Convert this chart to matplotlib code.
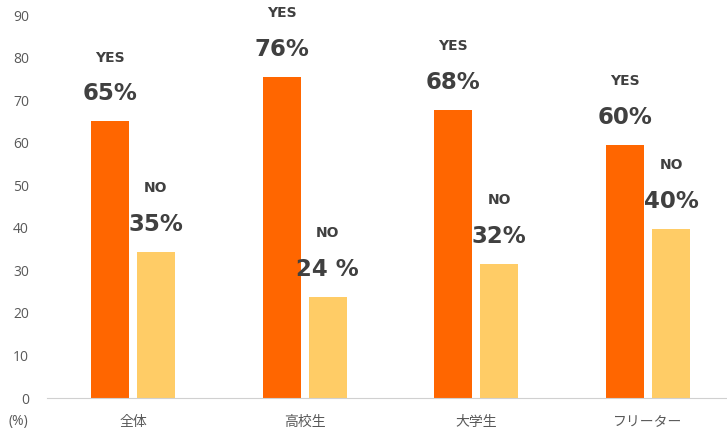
import matplotlib.pyplot as plt
import numpy as np

plt.rcParams['font.family'] = ['Open Sans', 'Noto Sans CJK JP', 'DejaVu Sans']

categories = ['全体', '高校生', '大学生', 'フリーター']
yes_values = [65, 75.5, 67.7, 59.5]
no_values = [34.3, 23.7, 31.5, 39.7]
yes_labels = ['65%', '76%', '68%', '60%']
no_labels = ['35%', '24 %', '32%', '40%']

ORANGE = '#FF6600'
YELLOW = '#FFCC66'
TEXT = '#404040'
TICK = '#595959'

fig = plt.figure(figsize=(7.27, 4.32), dpi=100)
ax = fig.add_axes([0.0647, 0.0787, 0.9353, 0.8863])

x = np.arange(len(categories))
w = 0.222
off = 0.134

ax.bar(x - off, yes_values, w, color=ORANGE)
ax.bar(x + off, no_values, w, color=YELLOW)

# labels above bars
for i in range(len(categories)):
    ax.text(x[i] - off, yes_values[i] + 6.5, yes_labels[i], ha='center', va='center',
            fontsize=16.5, fontweight='bold', color=TEXT, family='DejaVu Sans')
    ax.text(x[i] - off, yes_values[i] + 15, 'YES', ha='center', va='center',
            fontsize=10, fontweight='bold', color=TEXT, family='DejaVu Sans')
    ax.text(x[i] + off, no_values[i] + 6.5, no_labels[i], ha='center', va='center',
            fontsize=16.5, fontweight='bold', color=TEXT, family='DejaVu Sans')
    ax.text(x[i] + off, no_values[i] + 15, 'NO', ha='center', va='center',
            fontsize=10, fontweight='bold', color=TEXT, family='DejaVu Sans')

ax.set_ylim(0, 90)
ax.set_xlim(-0.5, 3.46)
ax.set_yticks(range(0, 91, 10))
ax.set_xticks(x)
ax.set_xticklabels(categories)

for s in ['top', 'right', 'left']:
    ax.spines[s].set_visible(False)
ax.spines['bottom'].set_color('#D0D0D0')
ax.tick_params(axis='both', length=0, labelsize=10, colors=TICK)
ax.tick_params(axis='y', pad=13)
ax.tick_params(axis='x', pad=12)

fig.text(18 / 727, 1 - 422 / 432, '(%)', ha='center', va='center', fontsize=10, color=TICK)

fig.savefig('out.png', dpi=100)
